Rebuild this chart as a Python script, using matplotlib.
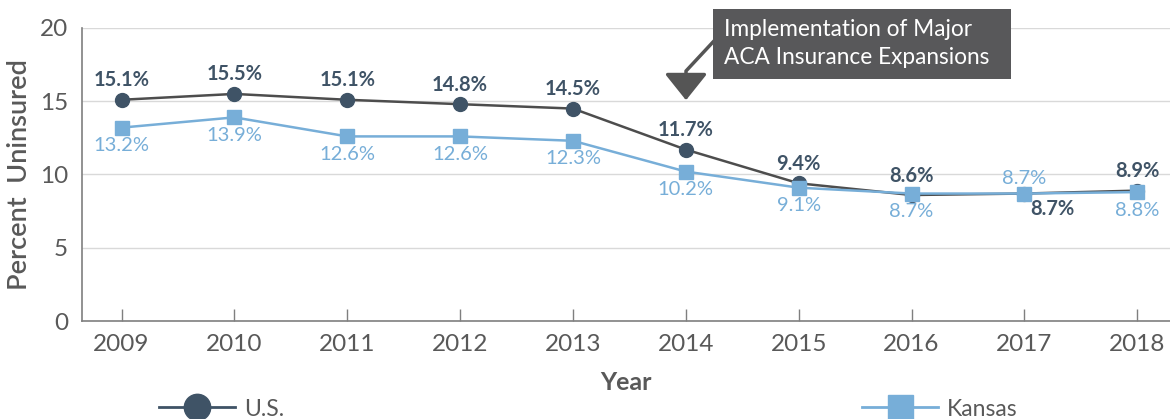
import matplotlib
matplotlib.use("Agg")
import matplotlib.pyplot as plt
from matplotlib.patches import Rectangle, FancyArrowPatch
from matplotlib.lines import Line2D

plt.rcParams['font.family'] = ['Lato', 'DejaVu Sans']

years = [2009, 2010, 2011, 2012, 2013, 2014, 2015, 2016, 2017, 2018]
us = [15.1, 15.5, 15.1, 14.8, 14.5, 11.7, 9.4, 8.6, 8.7, 8.9]
kansas = [13.2, 13.9, 12.6, 12.6, 12.3, 10.2, 9.1, 8.7, 8.7, 8.8]
yticks = [0, 5, 10, 15, 20]

US_C = '#3f5366'
US_LINE = '#4d4d4d'
KS_C = '#77aed8'
GRAY = '#595959'

W, H = 1170, 419
fig = plt.figure(figsize=(W / 100, H / 100), dpi=100)
ax = fig.add_axes([82 / W, 1 - 321 / H, 1 - 82 / W, (321 - 28) / H])

def fx(px):
    return px / W

def fy(py):
    return 1 - py / H

ax.plot(years, us, color=US_LINE, lw=1.8, marker='o', ms=10,
        mfc=US_C, mec=US_C, zorder=3, label='U.S.')
ax.plot(years, kansas, color=KS_C, lw=1.8, marker='s', ms=9.5,
        mfc=KS_C, mec=KS_C, zorder=4, label='Kansas')

ax.set_xlim(2008.65, 2018.29)
ax.set_ylim(0, 20)
ax.set_xticks(years)
ax.set_yticks(yticks)
ax.grid(axis='y', color='#d9d9d9', lw=1)
ax.set_axisbelow(True)
for s in ['top', 'right']:
    ax.spines[s].set_visible(False)
for s in ['left', 'bottom']:
    ax.spines[s].set_color('#7f7f7f')
    ax.spines[s].set_linewidth(1.2)
ax.tick_params(axis='x', direction='in', length=9, width=1, color='#7f7f7f',
               labelsize=17.5, labelcolor=GRAY, pad=9)
ax.tick_params(axis='y', length=0, labelsize=17.5, labelcolor=GRAY, pad=10)
ax.set_ylabel('Percent  Uninsured', fontsize=19.5, fontweight='semibold', color=GRAY, labelpad=6)
ax.set_xlabel('Year', fontsize=18, fontweight='bold', color=GRAY, labelpad=12)

# data labels
for x, u, k in zip(years, us, kansas):
    u_off = (0, 14)
    k_off = (0, -13)
    if x == 2017:
        u_off = (20, -11)
        k_off = (0, 11)
    ax.annotate(f'{u}%', (x, u), xytext=u_off, textcoords='offset points',
                ha='center', va='center', fontsize=14.5, fontweight='bold', color=US_C)
    ax.annotate(f'{k}%', (x, k), xytext=k_off, textcoords='offset points',
                ha='center', va='center', fontsize=14.5, color=KS_C)

# annotation box
fig.patches.append(Rectangle((fx(713), fy(79)), fx(1011) - fx(713), fy(9) - fy(79),
                             transform=fig.transFigure, facecolor='#58585a',
                             edgecolor='none', zorder=5))
fig.text(fx(724), fy(29), 'Implementation of Major', color='white', fontsize=16.3,
         va='center', ha='left', zorder=6)
fig.text(fx(724), fy(57), 'ACA Insurance Expansions', color='white', fontsize=16.3,
         va='center', ha='left', zorder=6)
fig.lines.append(Line2D([fx(713), fx(686), fx(686)], [fy(42), fy(71), fy(88)],
                        transform=fig.transFigure, color='#555555', lw=2.5))
fig.patches.append(FancyArrowPatch(
    (fx(686), fy(80)), (fx(686), fy(103)), transform=fig.transFigure,
    arrowstyle='-|>,head_width=0.6,head_length=0.75', mutation_scale=22,
    color='#555555', lw=2.5))

# legends
h_us = Line2D([], [], color=US_C, lw=2, marker='o', ms=19, mfc=US_C, mec=US_C)
h_ks = Line2D([], [], color=KS_C, lw=2, marker='s', ms=18, mfc=KS_C, mec=KS_C)
fig.legend([h_us], ['U.S.'], loc='center left', bbox_to_anchor=(fx(148), fy(409)),
           frameon=False, fontsize=16.5, handlelength=3.3, handletextpad=0.4,
           labelcolor=GRAY, borderpad=0)
fig.legend([h_ks], ['Kansas'], loc='center left', bbox_to_anchor=(fx(851), fy(409)),
           frameon=False, fontsize=16.5, handlelength=3.3, handletextpad=0.4,
           labelcolor=GRAY, borderpad=0)

fig.savefig('out.png', dpi=100)
